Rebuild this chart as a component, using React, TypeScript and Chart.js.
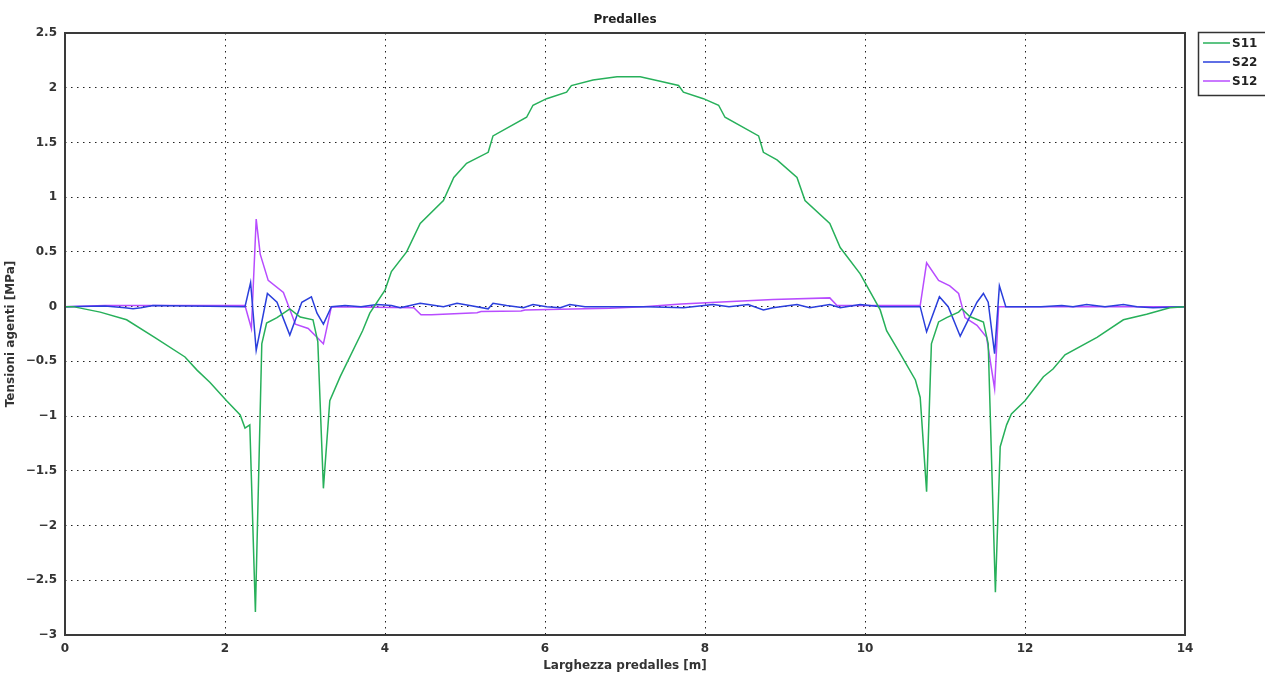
import React, { useEffect, useRef } from "react";
import { Chart, registerables } from "chart.js";

Chart.register(...registerables);

const chartTitle = "Predalles";
const xAxisTitle = "Larghezza predalles [m]";
const yAxisTitle = "Tensioni agenti [MPa]";
const seriesNames = ["S11", "S22", "S12"];
const seriesColors = ["#27b05a", "#2a3fdc", "#b84cff"];

const s11X = [0, 0.1, 0.44, 0.77, 1.12, 1.5, 1.65, 1.81, 2.02, 2.19, 2.25, 2.31, 2.38, 2.46, 2.52, 2.65, 2.81, 2.94, 3.1, 3.16, 3.23, 3.31, 3.44, 3.72, 3.81, 4.0, 4.08, 4.27, 4.44, 4.73, 4.86, 5.02, 5.29, 5.35, 5.77, 5.85, 6.02, 6.27, 6.33, 6.6, 6.9, 7.19, 7.44, 7.67, 7.73, 7.98, 8.17, 8.25, 8.67, 8.73, 8.9, 9.15, 9.25, 9.56, 9.69, 9.94, 10.19, 10.27, 10.44, 10.63, 10.69, 10.77, 10.83, 10.92, 11.02, 11.17, 11.21, 11.31, 11.48, 11.54, 11.63, 11.69, 11.77, 11.83, 12.0, 12.23, 12.35, 12.5, 12.9, 13.23, 13.52, 13.81, 14];
const s11Y = [0, 0, -0.05, -0.12, -0.28, -0.46, -0.58, -0.69, -0.86, -0.99, -1.11, -1.08, -2.79, -0.34, -0.15, -0.1, -0.02, -0.095, -0.12, -0.32, -1.66, -0.86, -0.64, -0.22, -0.06, 0.15, 0.32, 0.5, 0.76, 0.97, 1.18, 1.31, 1.41, 1.56, 1.73, 1.84, 1.9, 1.96, 2.02, 2.07, 2.1, 2.1, 2.06, 2.02, 1.96, 1.9, 1.84, 1.73, 1.56, 1.41, 1.34, 1.18, 0.97, 0.76, 0.54, 0.3, -0.03, -0.22, -0.43, -0.67, -0.83, -1.69, -0.34, -0.14, -0.1, -0.05, -0.02, -0.09, -0.14, -0.34, -2.61, -1.28, -1.08, -0.98, -0.86, -0.64, -0.57, -0.44, -0.28, -0.12, -0.07, -0.01, 0];

const s22X = [0, 0.5, 0.75, 0.85, 0.95, 1.1, 2.25, 2.32, 2.39, 2.53, 2.65, 2.81, 2.96, 3.08, 3.15, 3.23, 3.33, 3.5, 3.7, 3.9, 4.08, 4.19, 4.44, 4.73, 4.9, 5.06, 5.29, 5.35, 5.52, 5.73, 5.85, 6.02, 6.19, 6.31, 6.5, 7.27, 7.73, 8.1, 8.3, 8.54, 8.73, 8.85, 9.15, 9.31, 9.56, 9.69, 9.94, 10.2, 10.69, 10.77, 10.93, 11.04, 11.19, 11.4, 11.48, 11.54, 11.62, 11.68, 11.76, 12.2, 12.46, 12.6, 12.77, 13.0, 13.23, 13.4, 13.6, 14];
const s22Y = [0, 0.005, -0.01, -0.02, -0.01, 0.01, 0, 0.22, -0.4, 0.12, 0.04, -0.26, 0.04, 0.09, -0.06, -0.16, 0, 0.01, 0, 0.02, 0.01, -0.01, 0.03, 0, 0.03, 0.01, -0.02, 0.03, 0.01, -0.01, 0.02, 0, -0.01, 0.02, 0, 0, -0.01, 0.02, 0, 0.02, -0.03, -0.01, 0.02, -0.01, 0.02, -0.01, 0.02, 0, 0, -0.23, 0.09, 0, -0.27, 0.04, 0.12, 0.04, -0.43, 0.19, 0, 0, 0.01, 0, 0.02, 0, 0.02, 0, -0.01, 0];

const s12X = [0, 0.5, 2.25, 2.33, 2.39, 2.44, 2.54, 2.73, 2.88, 3.04, 3.23, 3.33, 4.36, 4.45, 4.58, 5.15, 5.2, 5.7, 5.75, 6.19, 6.81, 7.23, 7.7, 8.27, 8.85, 9.56, 9.65, 10.69, 10.77, 10.92, 11.06, 11.17, 11.25, 11.4, 11.52, 11.62, 11.67, 14];
const s12Y = [0, 0.01, 0.01, -0.2, 0.8, 0.48, 0.24, 0.13, -0.16, -0.2, -0.34, 0, -0.01, -0.075, -0.075, -0.055, -0.045, -0.04, -0.03, -0.025, -0.015, 0, 0.025, 0.045, 0.065, 0.08, 0.01, 0.01, 0.4, 0.24, 0.19, 0.12, -0.1, -0.17, -0.28, -0.75, 0, 0];

const xTicks = [0, 2, 4, 6, 8, 10, 12, 14];
const yTicks = [-3, -2.5, -2, -1.5, -1, -0.5, 0, 0.5, 1, 1.5, 2, 2.5];

const FONT = "'DejaVu Sans', sans-serif";

function pts(xs: number[], ys: number[]) {
  return xs.map((x, i) => ({ x, y: ys[i] }));
}

const decorPlugin = {
  id: "decor",
  afterDraw(chart: any) {
    const { ctx, chartArea } = chart;
    ctx.save();
    ctx.setLineDash([]);
    // frame
    ctx.strokeStyle = "#3a3a3a";
    ctx.lineWidth = 2;
    ctx.strokeRect(chartArea.left, chartArea.top, chartArea.right - chartArea.left, chartArea.bottom - chartArea.top);
    // title
    ctx.fillStyle = "#222";
    ctx.font = `bold 12px ${FONT}`;
    ctx.textAlign = "center";
    ctx.textBaseline = "middle";
    ctx.fillText(chartTitle, (chartArea.left + chartArea.right) / 2, 20);
    // legend
    const lx = 1198, ly = 32, lw = 70, lh = 63;
    ctx.fillStyle = "#fff";
    ctx.fillRect(lx, ly, lw, lh);
    ctx.strokeStyle = "#333";
    ctx.lineWidth = 1.5;
    ctx.strokeRect(lx + 0.5, ly + 0.5, lw, lh);
    ctx.textAlign = "left";
    seriesNames.forEach((name, i) => {
      const y = ly + 11 + i * 19;
      ctx.strokeStyle = seriesColors[i];
      ctx.lineWidth = 1.5;
      ctx.beginPath();
      ctx.moveTo(lx + 5, y);
      ctx.lineTo(lx + 32, y);
      ctx.stroke();
      ctx.fillStyle = "#222";
      ctx.fillText(name, lx + 34, y + 1);
    });
    ctx.restore();
  },
};

const fmt = (v: number) => {
  const s = String(Math.abs(v));
  return v < 0 ? "\u2212" + s : s;
};

export default function App() {
  const ref = useRef<HTMLCanvasElement>(null);
  useEffect(() => {
    if (!ref.current) return;
    const xs = [s11X, s22X, s12X];
    const ys = [s11Y, s22Y, s12Y];
    const chart = new Chart(ref.current, {
      type: "scatter",
      data: {
        datasets: seriesNames.map((name, i) => ({
          label: name,
          data: pts(xs[i], ys[i]),
          showLine: true,
          borderColor: seriesColors[i],
          backgroundColor: seriesColors[i],
          borderWidth: 1.5,
          pointRadius: 0,
          tension: 0,
        })),
      },
      options: {
        responsive: false,
        animation: false,
        layout: { padding: { left: 0, right: 80, top: 33, bottom: 0 } },
        plugins: { legend: { display: false }, title: { display: false }, tooltip: { enabled: false } },
        scales: {
          x: {
            type: "linear",
            min: 0,
            max: 14,
            afterBuildTicks: (s: any) => { s.ticks = xTicks.map((v) => ({ value: v })); },
            afterFit: (s: any) => { s.height = 42; },
            grid: { color: "#222", lineWidth: 1, drawTicks: false },
            border: { display: false, dash: [1.5, 4.5] },
            ticks: { color: "#333", font: { family: FONT, size: 12, weight: "bold" }, padding: 7, maxRotation: 0, callback: (v: any) => fmt(Number(v)) },
            title: { display: true, text: xAxisTitle, color: "#333", font: { family: FONT, size: 12, weight: "bold" }, padding: { top: 0, bottom: 4 } },
          },
          y: {
            type: "linear",
            min: -3,
            max: 2.5,
            afterBuildTicks: (s: any) => { s.ticks = yTicks.map((v) => ({ value: v })); },
            afterFit: (s: any) => { s.width = 65; },
            grid: { color: "#222", lineWidth: 1, drawTicks: false },
            border: { display: false, dash: [1.5, 4.5] },
            ticks: { color: "#333", font: { family: FONT, size: 12, weight: "bold" }, padding: 8, callback: (v: any) => fmt(Number(v)) },
            title: { display: true, text: yAxisTitle, color: "#333", font: { family: FONT, size: 12, weight: "bold" }, padding: { top: 4, bottom: 0 } },
          },
        },
      },
      plugins: [decorPlugin],
    } as any);
    return () => chart.destroy();
  }, []);
  return (
    <div style={{ position: "fixed", left: 0, top: 0, width: 1265, height: 677, background: "#fff" }}>
      <canvas ref={ref} width={1265} height={677} style={{ display: "block" }} />
    </div>
  );
}
